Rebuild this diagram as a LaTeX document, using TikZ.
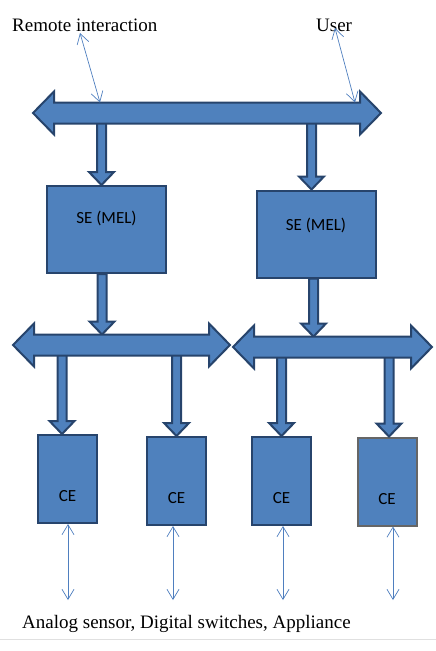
\documentclass[tikz,border=0pt]{standalone}
\usepackage{fontspec}
\setmainfont{Liberation Serif}
\newfontfamily\calibri{Carlito}
\usetikzlibrary{arrows.meta}
\usetikzlibrary{calc}
\definecolor{boxblue}{HTML}{4F81BD}
\definecolor{boxedge}{HTML}{27446C}
\definecolor{linkblue}{HTML}{4F7FBF}
\tikzset{
    fat/.style = {fill=boxblue, draw=boxedge, line width=2pt, line join=miter},
    fatdown/.style = {to path={let \p1=(\tikztostart), \p2=(\tikztotarget) in
        (\x1-4.5pt,\y1) -- (\x1-4.5pt,\y2+13pt) -- (\x1-12.5pt,\y2+13pt) -- (\x1,\y2)
        -- (\x1+12.5pt,\y2+13pt) -- (\x1+4.5pt,\y2+13pt) -- (\x1+4.5pt,\y1) -- cycle}},
    busarrow/.style = {to path={let \p1=(\tikztostart), \p2=(\tikztotarget) in
        (\x1,\y1) -- (\x1+21pt,\y1+21.5pt) -- (\x1+21pt,\y1+10.5pt) -- (\x2-21pt,\y1+10.5pt)
        -- (\x2-21pt,\y1+21.5pt) -- (\x2,\y1) -- (\x2-21pt,\y1-21.5pt) -- (\x2-21pt,\y1-10.5pt)
        -- (\x1+21pt,\y1-10.5pt) -- (\x1+21pt,\y1-21.5pt) -- cycle}},
    box/.style = {rectangle, fill=boxblue, draw=boxedge, line width=2pt, inner sep=0pt,
        font=\calibri\fontsize{17}{20}\selectfont},
    sebox/.style = {box, minimum width=119pt, minimum height=87pt, text height=12pt},
    cebox/.style = {box, minimum width=59pt, minimum height=88pt, text height=45pt, text depth=0pt},
    link/.style = {linkblue, line width=0.7pt,
        {Straight Barb[length=10pt,width=12pt]}-{Straight Barb[length=10pt,width=12pt]}},
    caption/.style = {font=\fontsize{19}{22}\selectfont, inner sep=0pt, anchor=base west}
}

\begin{document}
\begin{tikzpicture}[x=1pt, y=-1pt]
    \useasboundingbox (0,0) rectangle (436,651);

    \coordinate (b0l) at (33,113);
    \coordinate (b0r) at (381,113);
    \coordinate (b1l) at (13,345);
    \coordinate (b1r) at (230,345);
    \coordinate (b2l) at (233,347);
    \coordinate (b2r) at (432,347);

    \node [sebox, text depth=25pt] (se1) at (106.5,229.5) {SE (MEL)};
    \node [sebox, text depth=20pt] (se2) at (316,234) {SE (MEL)};
    \node [cebox] (ce1) at (67.5,479) {CE};
    \node [cebox] (ce2) at (176.5,481) {CE};
    \node [cebox] (ce3) at (281.5,481) {CE};
    \node [cebox, draw=gray!80!black] (ce4) at (387,481.5) {CE};

    \draw [fat, fatdown] ($(se1.north |- b0l)+(-5,0)$) to ($(se1.north)+(-5,0)$);
    \draw [fat, fatdown] ($(se2.north |- b0l)+(-4.5,0)$) to ($(se2.north)+(-4.5,0)$);
    \draw [fat, fatdown] ($(se1.south)+(-4.5,0)$) to ($(se1.south |- b1l)+(-4.5,-10.5)$);
    \draw [fat, fatdown] ($(se2.south)+(-2.5,0)$) to ($(se2.south |- b2l)+(-2.5,-10.5)$);
    \draw [fat, fatdown] ($(ce1.north |- b1l)+(-5.5,0)$) to ($(ce1.north)+(-5.5,0)$);
    \draw [fat, fatdown] (ce2.north |- b1l) to (ce2.north);
    \draw [fat, fatdown] (ce3.north |- b2l) to (ce3.north);
    \draw [fat, fatdown] ($(ce4.north |- b2l)+(2,0)$) to ($(ce4.north)+(2,0)$);

    \draw [fat, busarrow] (b0l) to (b0r);
    \draw [fat, busarrow] (b1l) to (b1r);
    \draw [fat, busarrow] (b2l) to (b2r);

    \node [caption] (rem) at (12,31.5) {Remote interaction};
    \node [caption] (usr) at (316,31.5) {User};
    \node [caption] (field) at (22,628) {Analog sensor, Digital switches, Appliance};

    \coordinate (r0) at (80,33);
    \coordinate (r1) at (100,102.5);
    \coordinate (u0) at (335,28);
    \coordinate (u1) at (355,102.5);
    \draw [link] (r0) -- (r1);
    \draw [link] (u0) -- (u1);

    \coordinate (s1) at (68,600);
    \coordinate (s2) at (173,600);
    \coordinate (s3) at (283,600);
    \coordinate (s4) at (393,600);
    \draw [link] (s1 |- ce1.south) -- (s1);
    \draw [link] (s2 |- ce2.south) -- (s2);
    \draw [link] (s3 |- ce3.south) -- (s3);
    \draw [link] (s4 |- ce4.south) -- (s4);

    \draw [black!12, line width=1pt] (0,639) -- (436,639);
\end{tikzpicture}
\end{document}
